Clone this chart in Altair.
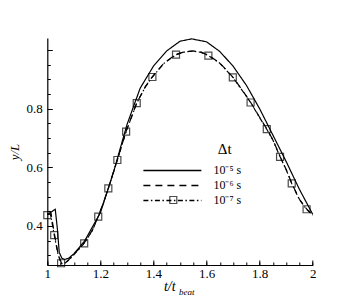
import altair as alt
import pandas as pd

series_names = ["10⁻⁵ s", "10⁻⁶ s", "10⁻⁷ s"]

# 10^-5 s (solid)
s_t = [1.0, 1.015, 1.03, 1.038, 1.045, 1.055, 1.066, 1.08, 1.1, 1.14, 1.2, 1.25, 1.3, 1.35,
       1.4, 1.45, 1.5, 1.544, 1.6, 1.65, 1.7, 1.75, 1.8, 1.85, 1.9, 1.95, 2.0]
s_y = [0.44, 0.448, 0.457, 0.39, 0.31, 0.29, 0.286, 0.29, 0.305, 0.348, 0.445, 0.585, 0.745, 0.87,
       0.945, 0.997, 1.03, 1.038, 1.028, 0.995, 0.945, 0.88, 0.80, 0.71, 0.62, 0.525, 0.44]

# 10^-6 s (dashed)
d_t = [1.0, 1.014, 1.027, 1.04, 1.053, 1.066, 1.08, 1.1, 1.139, 1.17, 1.192, 1.21, 1.23, 1.264,
       1.297, 1.337, 1.37, 1.396, 1.44, 1.485, 1.52, 1.55, 1.58, 1.607, 1.65, 1.699, 1.73, 1.766,
       1.8, 1.827, 1.85, 1.877, 1.9, 1.921, 1.95, 1.977, 2.0]
d_y = [0.44, 0.442, 0.372, 0.307, 0.274, 0.273, 0.284, 0.303, 0.342, 0.386, 0.433, 0.476, 0.529, 0.626,
       0.723, 0.82, 0.876, 0.909, 0.956, 0.985, 0.995, 0.997, 0.993, 0.982, 0.956, 0.908, 0.869, 0.822,
       0.771, 0.731, 0.694, 0.637, 0.593, 0.546, 0.491, 0.458, 0.437]

# 10^-7 s (dash-dot)
dd_t = [1.0, 1.012, 1.026, 1.04, 1.052, 1.065, 1.08, 1.1, 1.139, 1.17, 1.192, 1.21, 1.23, 1.264,
        1.297, 1.337, 1.37, 1.396, 1.44, 1.485, 1.52, 1.55, 1.58, 1.607, 1.65, 1.699, 1.73, 1.766,
        1.8, 1.827, 1.85, 1.877, 1.9, 1.921, 1.95, 1.977, 2.0]
dd_y = [0.44, 0.44, 0.37, 0.305, 0.272, 0.272, 0.283, 0.302, 0.341, 0.385, 0.432, 0.475, 0.528, 0.625,
        0.722, 0.819, 0.875, 0.908, 0.955, 0.984, 0.994, 0.996, 0.992, 0.981, 0.955, 0.907, 0.868, 0.821,
        0.77, 0.73, 0.693, 0.636, 0.592, 0.545, 0.49, 0.457, 0.437]

# square markers on the 10^-7 s curve
sq_t = [1.0, 1.026, 1.052, 1.139, 1.192, 1.230, 1.264, 1.297, 1.337, 1.396, 1.485, 1.607,
        1.699, 1.766, 1.827, 1.877, 1.921, 1.977]
sq_y = [0.437, 0.369, 0.273, 0.341, 0.432, 0.528, 0.625, 0.722, 0.819, 0.908, 0.984, 0.981,
        0.907, 0.821, 0.730, 0.636, 0.545, 0.457]

legend_title = "Δt"

x_major = [1.0, 1.2, 1.4, 1.6, 1.8, 2.0]
x_minor = [round(1.0 + 0.05 * i, 2) for i in range(21)]
y_labels = [0.4, 0.6, 0.8]
y_major = [0.4, 0.6, 0.8, 1.0]
y_minor = [round(0.3 + 0.05 * i, 2) for i in range(15)]

rows = []
for name, ts, ys_ in zip(series_names, [s_t, d_t, dd_t], [s_y, d_y, dd_y]):
    for i, (t, y) in enumerate(zip(ts, ys_)):
        rows.append({"series": name, "t": t, "y": y, "i": i})
df = pd.DataFrame(rows)
sq = pd.DataFrame({"t": sq_t, "y": sq_y, "mk": "sq"})

serif = "Liberation Serif"
xs = alt.Scale(domain=[1, 2], nice=False, zero=False)
ys = alt.Scale(domain=[0.267, 1.041], nice=False, zero=False)

x_main = alt.Axis(orient="bottom", values=x_major, format="~g", ticks=False, domain=True,
                  domainColor="black", domainWidth=1.2, labelFont=serif, labelFontSize=13,
                  labelColor="black", labelPadding=3, labelFlush=False, grid=False,
                  title="t/t", titleFont=serif, titleFontSize=14, titleFontStyle="italic",
                  titleFontWeight="normal", titleColor="black", titleX=122, titleY=26,
                  titleBaseline="alphabetic")
x_tick = alt.Axis(orient="bottom", values=x_major, ticks=True, tickSize=5, offset=-5,
                  tickColor="black", tickWidth=1, domain=False, labels=False, grid=False,
                  title="beat", titleFont=serif, titleFontSize=9, titleFontStyle="italic",
                  titleFontWeight="normal", titleColor="black", titleX=139, titleY=35,
                  titleBaseline="alphabetic")
x_min = alt.Axis(orient="bottom", values=x_minor, ticks=True, tickSize=3, offset=-3,
                 tickColor="black", tickWidth=1, domain=False, labels=False, grid=False, title=None)

y_main = alt.Axis(orient="left", values=y_labels, format="~g", ticks=False, domain=True,
                  domainColor="black", domainWidth=1.2, labelFont=serif, labelFontSize=13,
                  labelColor="black", labelPadding=5, grid=False,
                  title="y/L", titleFont=serif, titleFontSize=13, titleFontStyle="italic",
                  titleFontWeight="normal", titleColor="black", titlePadding=5)
y_tick = alt.Axis(orient="left", values=y_major, ticks=True, tickSize=5, offset=-5,
                  tickColor="black", tickWidth=1, domain=False, labels=False, grid=False, title=None)
y_min = alt.Axis(orient="left", values=y_minor, ticks=True, tickSize=3, offset=-3,
                 tickColor="black", tickWidth=1, domain=False, labels=False, grid=False, title=None)

# wide horizontal legend sample: custom path scaled by sqrt(size)/2
sample_path = "M-5,0H5"

lines = alt.Chart(df).mark_line(color="black", strokeWidth=1.2).encode(
    x=alt.X("t:Q", scale=xs, axis=x_main),
    y=alt.Y("y:Q", scale=ys, axis=y_main),
    strokeDash=alt.StrokeDash(
        "series:N",
        scale=alt.Scale(domain=series_names, range=[[1, 0], [7, 5], [5, 2.5, 1.5, 2.5]]),
        legend=alt.Legend(orient="none", legendX=118.6, legendY=126, title=None,
                          labelFont=serif, labelFontSize=12, labelColor="black", labelOffset=34.5,
                          symbolType=sample_path, symbolSize=134.56, symbolStrokeWidth=1.3,
                          symbolStrokeColor="black", rowPadding=2, padding=0)),
    detail="series:N",
    order="i:Q",
)

points = alt.Chart(sq).mark_point(shape="square", filled=False, color="black", size=49,
                                  strokeWidth=1.2).encode(
    x=alt.X("t:Q", scale=xs, axis=x_tick),
    y=alt.Y("y:Q", scale=ys, axis=y_tick),
    shape=alt.Shape("mk:N", scale=alt.Scale(domain=["sq"], range=["square"]),
                    legend=alt.Legend(orient="none", legendX=121, legendY=157, title=None,
                                      labelExpr="''", symbolSize=49, symbolStrokeWidth=1.2,
                                      symbolStrokeColor="black", symbolFillColor="transparent",
                                      padding=0)),
)

# invisible layer carrying the minor ticks and the legend heading
minor = alt.Chart(sq).mark_point().encode(
    x=alt.X("t:Q", scale=xs, axis=x_min),
    y=alt.Y("y:Q", scale=ys, axis=y_min),
    opacity=alt.Opacity("mk:N", scale=alt.Scale(domain=["sq"], range=[0, 0]),
                        legend=alt.Legend(orient="none", legendX=170.5, legendY=104,
                                          title=legend_title, titleFont=serif, titleFontSize=15,
                                          titleFontWeight="normal", titleColor="black",
                                          titleAnchor="start", labelExpr="''", symbolSize=1,
                                          symbolOpacity=0, padding=0)),
)

chart = alt.layer(lines, points, minor).resolve_axis(
    x="independent", y="independent"
).resolve_legend(shape="independent", strokeDash="independent", opacity="independent").properties(
    width=265.4, height=227,
    autosize=alt.AutoSizeParams(type="none"),
    padding={"left": 39.3, "top": 30, "right": 30, "bottom": 34},
    background="white",
).configure_view(stroke=None)

chart.save("out.html", embed_options={"renderer": "svg", "actions": False})
